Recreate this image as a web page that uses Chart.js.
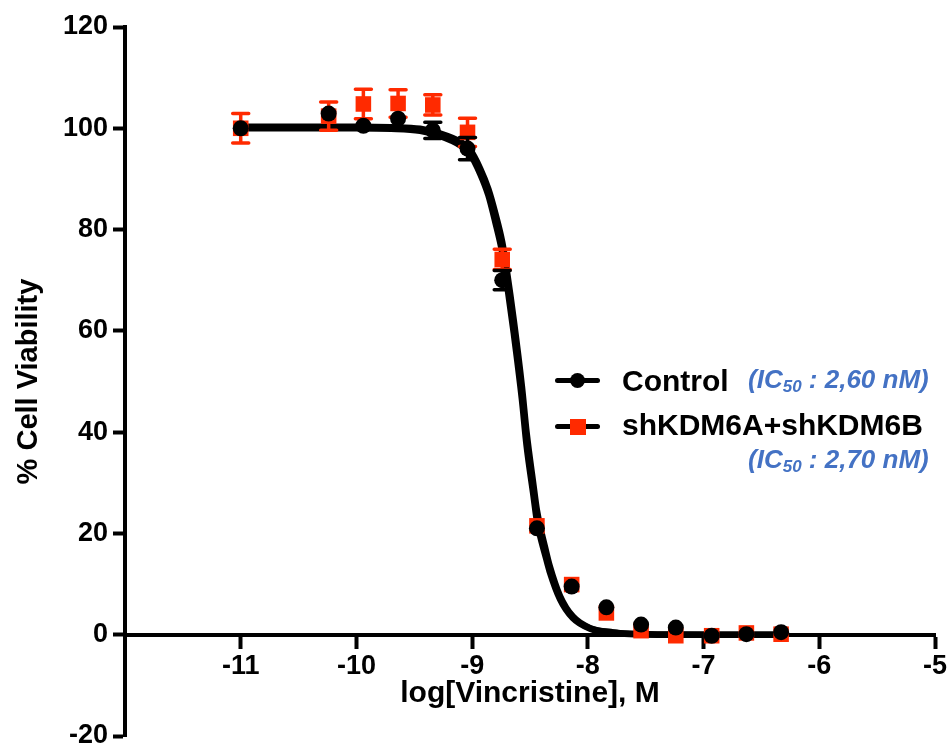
<!DOCTYPE html>
<html><head><meta charset="utf-8">
<script src="https://cdn.jsdelivr.net/npm/chart.js@4/dist/chart.umd.min.js"></script>
<style>
html,body{margin:0;padding:0;background:#fff;}
#wrap{position:relative;width:948px;height:747px;overflow:hidden;}
#c{position:absolute;left:0;top:0;}
.t{position:absolute;font-family:"Liberation Sans",Arial,sans-serif;font-weight:bold;white-space:nowrap;color:#000;}
.ic{color:#4472c4;font-style:italic;font-size:26px;line-height:26px;}
.ic sub{font-size:17px;vertical-align:-4px;line-height:0;}
.name{font-size:30px;line-height:30px;}
.ln{position:absolute;background:#000;height:5px;border-radius:3px;}
.dot{position:absolute;background:#000;width:15px;height:15px;border-radius:50%;}
.sq{position:absolute;background:#ff2a00;width:16px;height:16px;}
</style></head><body>
<div id="wrap">
<canvas id="c" width="948" height="747"></canvas>
<div class="ln" style="left:555px;top:378px;width:45px;"></div>
<div class="dot" style="left:570px;top:373px;"></div>
<div class="t name" style="left:622px;top:366px;">Control</div>
<div class="t ic" style="left:748px;top:366px;">(IC<sub>50</sub> : 2,60 nM)</div>
<div class="ln" style="left:555px;top:424px;width:45px;"></div>
<div class="sq" style="left:570px;top:419px;"></div>
<div class="t name" style="left:622px;top:410px;">shKDM6A+shKDM6B</div>
<div class="t ic" style="left:748px;top:446px;">(IC<sub>50</sub> : 2,70 nM)</div>
</div>
<script>
// log[Vincristine] (M) for each measured point
const concLog = [-11, -10.24, -9.94, -9.64, -9.34, -9.04, -8.74, -8.44, -8.14, -7.84, -7.54, -7.24, -6.93, -6.63, -6.33];
// % viability, Control
const controlY   = [100, 102.9, 100.5, 101.9, 99.6, 96.0, 70.0, 21.0, 9.5, 5.4, 2.0, 1.4, -0.2, 0.1, 0.5];
const controlErr = [0, 0, 0, 0, 1.6, 2.2, 1.9, 0, 0, 0, 0, 0, 0, 0, 0];
// % viability, shKDM6A+shKDM6B
const shY   = [100, 102.4, 104.8, 104.9, 104.6, 99.2, 74.1, 21.5, 9.9, 4.3, 0.8, -0.2, -0.2, 0.35, 0.1];
const shErr = [2.9, 2.8, 2.9, 2.7, 2.0, 2.8, 2.0, 0, 0, 0, 0, 0, 0, 0, 0];
// fitted dose-response curves
const fitX        = [-11, -10.5, -10, -9.7, -9.45, -9.28, -9.1, -9.02, -8.93, -8.86, -8.8, -8.74, -8.7, -8.64, -8.57, -8.53, -8.47, -8.44, -8.36, -8.33, -8.24, -8.13, -7.98, -7.78, -7.64, -7.3, -6.9, -6.33];
const controlFitY = [100, 100, 100, 99.9, 99.5, 98.5, 96.6, 95.0, 91.0, 86.8, 81.5, 75.5, 69.5, 59.5, 46.5, 37.5, 27.5, 22.5, 15.0, 12.5, 7.0, 3.3, 1.2, 0.4, 0.15, 0, 0, 0];
const shFitY      = [100.3, 100.3, 100.3, 100.2, 99.9, 99.0, 97.3, 95.8, 92.0, 88.0, 83.2, 77.5, 71.8, 62.0, 49.0, 40.0, 29.5, 24.5, 16.3, 13.6, 7.6, 3.6, 1.3, 0.45, 0.2, 0.02, 0, 0];
// axis ticks
const yTicks = [-20, 0, 20, 40, 60, 80, 100, 120];
const xTicks = [-11, -10, -9, -8, -7, -6, -5];

const pts = (xs, ys) => xs.map((x, i) => ({x, y: ys[i]}));
Chart.defaults.font.family = '"Liberation Sans", Arial, sans-serif';
Chart.defaults.color = '#000';

const errorBars = {
  id: 'errorBars',
  beforeDatasetDraw(chart, args) {
    const ds = chart.data.datasets[args.index];
    if (!ds.errors) return;
    const {ctx} = chart; const x = chart.scales.x, y = chart.scales.y;
    ctx.save();
    ctx.strokeStyle = ds.errorColor; ctx.lineWidth = 3.5; ctx.lineCap = 'round';
    ds.data.forEach((p, i) => {
      const e = ds.errors[i]; if (!e) return;
      const px = x.getPixelForValue(p.x);
      const t = y.getPixelForValue(p.y + e), b = y.getPixelForValue(p.y - e);
      ctx.beginPath();
      ctx.moveTo(px, t); ctx.lineTo(px, b);
      ctx.moveTo(px - 8, t); ctx.lineTo(px + 8, t);
      ctx.moveTo(px - 8, b); ctx.lineTo(px + 8, b);
      ctx.stroke();
    });
    ctx.restore();
  }
};

new Chart(document.getElementById('c'), {
  type: 'scatter',
  data: { datasets: [
    { label: 'Control', data: pts(concLog, controlY), errors: controlErr, errorColor: '#000',
      pointStyle: 'circle', pointRadius: 8, pointBackgroundColor: '#000', pointBorderWidth: 0, showLine: false },
    { label: 'shKDM6A+shKDM6B', data: pts(concLog, shY), errors: shErr, errorColor: '#ff2a00',
      pointStyle: 'rect', pointRadius: 11, pointBackgroundColor: '#ff2a00', pointBorderWidth: 0, showLine: false },
    { label: 'Control fit', data: pts(fitX, controlFitY), showLine: true, borderColor: '#000', borderWidth: 6.5,
      pointRadius: 0, cubicInterpolationMode: 'monotone', fill: false },
    { label: 'shKDM6A+shKDM6B fit', data: pts(fitX, shFitY), showLine: true, borderColor: '#000', borderWidth: 6.5,
      pointRadius: 0, cubicInterpolationMode: 'monotone', fill: false }
  ]},
  options: {
    responsive: false, animation: false,
    layout: { padding: { top: 27, right: 13, bottom: 10, left: 0 } },
    plugins: { legend: { display: false }, tooltip: { enabled: false } },
    scales: {
      x: {
        type: 'linear', min: -12, max: -5, position: { y: 0 },
        afterBuildTicks: s => { s.ticks = xTicks.map(v => ({ value: v })); },
        afterFit: s => { s.height = 0; s.paddingLeft = 0; s.paddingRight = 0; },
        ticks: { font: { size: 27, weight: 'bold' }, padding: 4, maxRotation: 0, autoSkip: false },
        grid: { drawOnChartArea: false, drawTicks: true, tickLength: 12, tickWidth: 4, tickColor: '#000' },
        border: { display: true, color: '#000', width: 4 },
        title: { display: true, text: 'log[Vincristine], M', font: { size: 30, weight: 'bold' }, padding: { top: 0, bottom: -77 } }
      },
      y: {
        type: 'linear', min: -20, max: 120, position: 'left',
        afterBuildTicks: s => { s.ticks = yTicks.map(v => ({ value: v })); },
        afterFit: s => { s.width = 125; s.paddingTop = 0; s.paddingBottom = 0; },
        ticks: { font: { size: 27, weight: 'bold' }, padding: 5 },
        grid: { drawOnChartArea: false, drawTicks: true, tickLength: 12, tickWidth: 4, tickColor: '#000' },
        border: { display: true, color: '#000', width: 4 },
        title: { display: true, text: '% Cell Viability', font: { size: 29, weight: 'bold' }, padding: { top: 12, bottom: 0 } }
      }
    }
  },
  plugins: [errorBars]
});
</script>
</body></html>
